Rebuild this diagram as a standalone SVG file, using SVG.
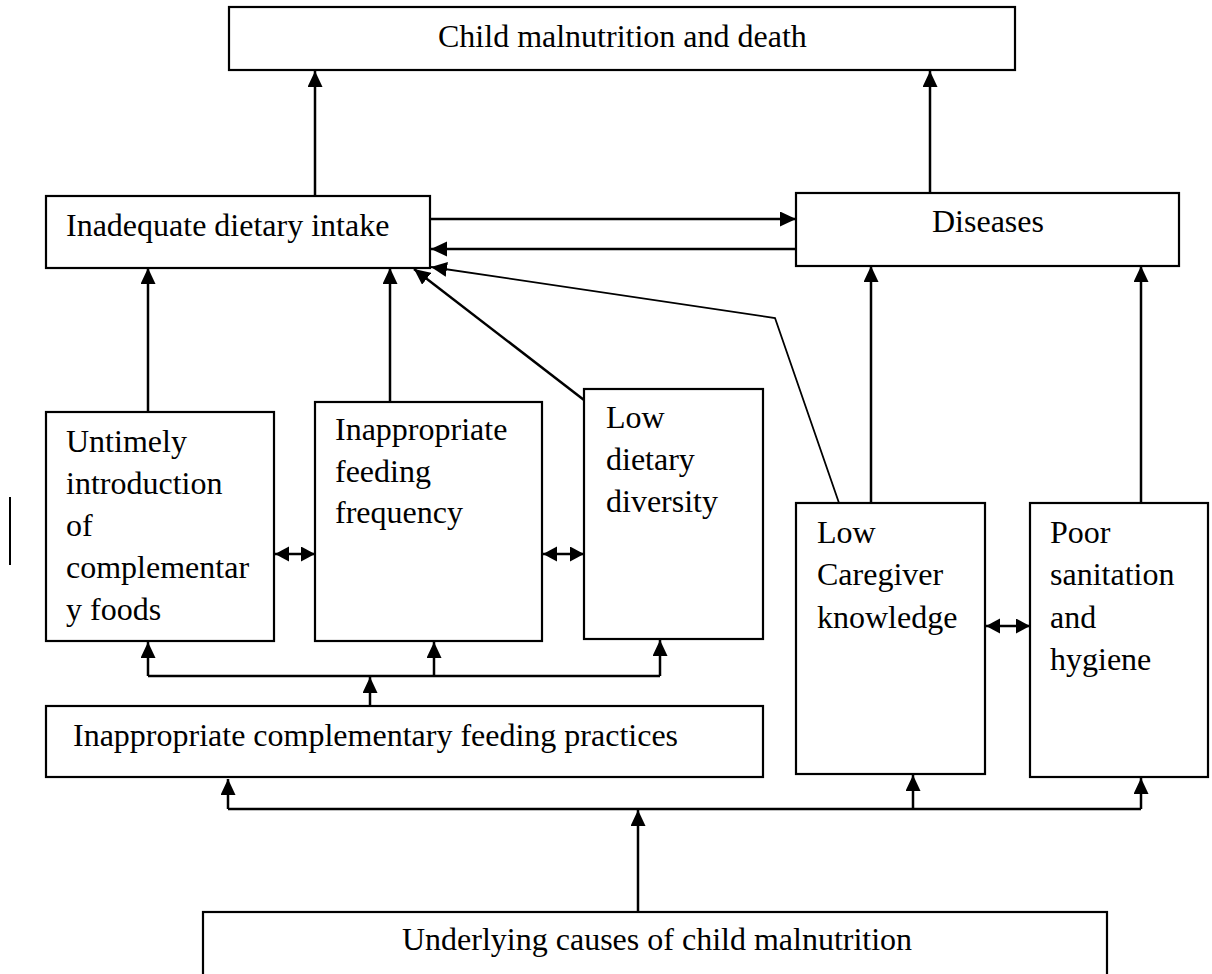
<svg xmlns="http://www.w3.org/2000/svg" width="1212" height="974" viewBox="0 0 1212 974">
<style>
.box{fill:#fff;stroke:#000;stroke-width:2.2}
.t{font-family:"Liberation Serif","Times New Roman",serif;font-size:32px;fill:#000}
.c{fill:none;stroke:#000;stroke-width:2.5}
.a{marker-end:url(#ah)}
.d{marker-start:url(#sh);marker-end:url(#sh)}
</style>
<defs>
<marker id="ah" markerUnits="userSpaceOnUse" markerWidth="17" markerHeight="16" refX="16" refY="7.5" orient="auto" viewBox="0 0 17 16">
<path d="M0,0 L16,7.5 L0,15 z" fill="#000"/>
</marker>
<marker id="sh" markerUnits="userSpaceOnUse" markerWidth="15" markerHeight="16" refX="14" refY="7.5" orient="auto-start-reverse" viewBox="0 0 15 16">
<path d="M0,0 L14,7.5 L0,15 z" fill="#000"/>
</marker>
</defs>
<rect width="1212" height="974" fill="#fff"/>
<g id="connectors">
<line class="c a" x1="315" y1="196" x2="315" y2="71"/>
<line class="c a" x1="930" y1="193" x2="930" y2="71"/>
<line class="c a" x1="431" y1="219" x2="796" y2="219"/>
<line class="c a" x1="796" y1="249" x2="431" y2="249"/>
<polyline class="a" fill="none" stroke="#000" stroke-width="1.8" points="839,503 775,318 431,267"/>
<line class="c a" x1="584" y1="400" x2="414" y2="269"/>
<line class="c a" x1="390" y1="402" x2="390" y2="268"/>
<line class="c a" x1="148" y1="412" x2="148" y2="268"/>
<line class="c a" x1="871" y1="503" x2="871" y2="266"/>
<line class="c a" x1="1141" y1="503" x2="1141" y2="266"/>
<line class="c d" x1="275" y1="554" x2="315" y2="554"/>
<line class="c d" x1="543" y1="554" x2="584" y2="554"/>
<line class="c d" x1="986" y1="626" x2="1030" y2="626"/>
<line class="c a" x1="370" y1="706" x2="370" y2="677"/>
<polyline class="c" points="148,676 660,676"/>
<line class="c a" x1="148" y1="676" x2="148" y2="642"/>
<line class="c a" x1="434" y1="676" x2="434" y2="642"/>
<line class="c a" x1="660" y1="676" x2="660" y2="640"/>
<line class="c a" x1="638" y1="912" x2="638" y2="810"/>
<polyline class="c" points="228,809 1141,809"/>
<line class="c a" x1="228" y1="809" x2="228" y2="779"/>
<line class="c a" x1="913" y1="809" x2="913" y2="775"/>
<line class="c a" x1="1141" y1="809" x2="1141" y2="778"/>
<line stroke="#000" stroke-width="2" x1="10" y1="497" x2="10" y2="565"/>
</g>
<g id="n-top"><rect class="box" x="229" y="7" width="786" height="63"/><text class="t" x="438" y="47">Child malnutrition and death</text></g>
<g id="n-inadequate"><rect class="box" x="46" y="196" width="384" height="72"/><text class="t" x="66" y="236">Inadequate dietary intake</text></g>
<g id="n-diseases"><rect class="box" x="796" y="193" width="383" height="73"/><text class="t" x="932" y="232">Diseases</text></g>
<g id="n-untimely"><rect class="box" x="46" y="412" width="228" height="229"/><text class="t"><tspan x="66" y="452">Untimely</tspan><tspan x="66" y="494">introduction</tspan><tspan x="66" y="536">of</tspan><tspan x="66" y="578">complementar</tspan><tspan x="66" y="620">y foods</tspan></text></g>
<g id="n-frequency"><rect class="box" x="315" y="402" width="227" height="239"/><text class="t"><tspan x="335" y="440">Inappropriate</tspan><tspan x="335" y="482">feeding</tspan><tspan x="335" y="523">frequency</tspan></text></g>
<g id="n-diversity"><rect class="box" x="584" y="389" width="179" height="250"/><text class="t"><tspan x="606" y="428">Low</tspan><tspan x="606" y="470">dietary</tspan><tspan x="606" y="512">diversity</tspan></text></g>
<g id="n-caregiver"><rect class="box" x="796" y="503" width="189" height="271"/><text class="t"><tspan x="817" y="543">Low</tspan><tspan x="817" y="585">Caregiver</tspan><tspan x="817" y="628">knowledge</tspan></text></g>
<g id="n-sanitation"><rect class="box" x="1030" y="503" width="178" height="274"/><text class="t"><tspan x="1050" y="543">Poor</tspan><tspan x="1050" y="585">sanitation</tspan><tspan x="1050" y="628">and</tspan><tspan x="1050" y="670">hygiene</tspan></text></g>
<g id="n-practices"><rect class="box" x="46" y="706" width="717" height="71"/><text class="t" x="73" y="746">Inappropriate complementary feeding practices</text></g>
<g id="n-underlying"><rect class="box" x="203" y="912" width="904" height="80"/><text class="t" x="402" y="950">Underlying causes of child malnutrition</text></g>
</svg>
